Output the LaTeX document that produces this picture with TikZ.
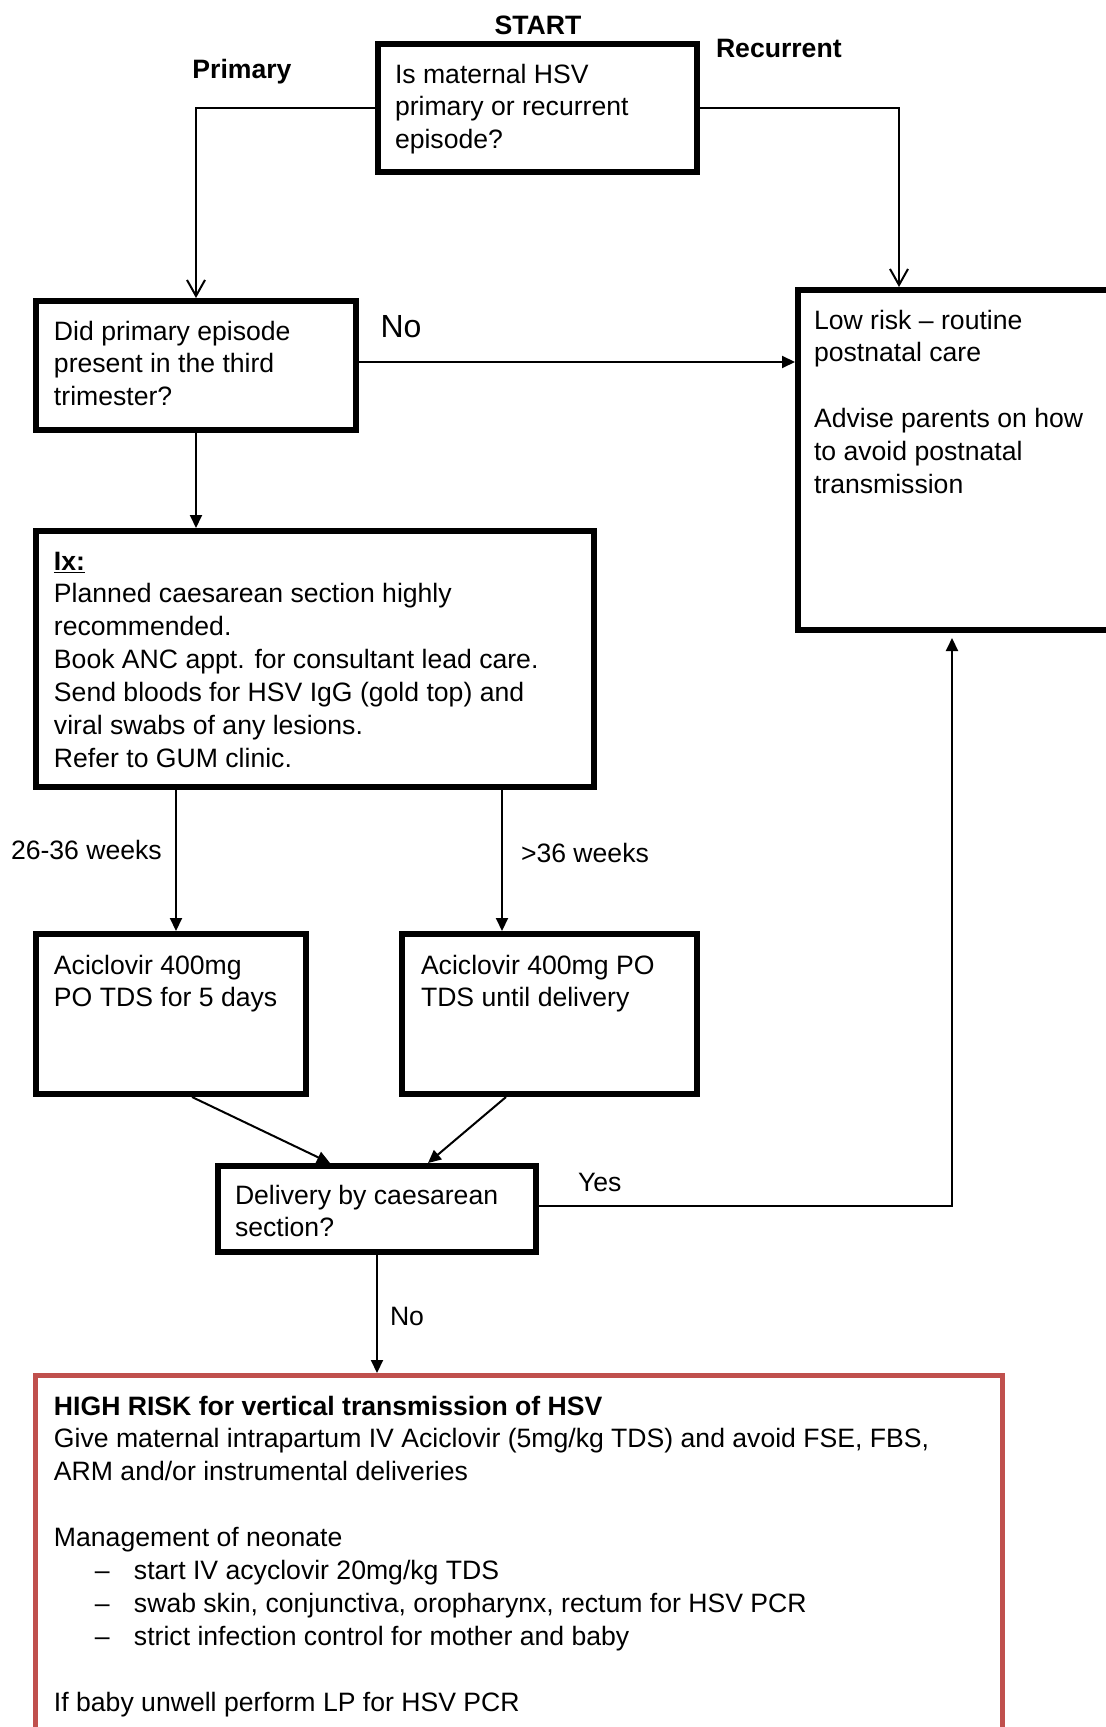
\documentclass[tikz,border=0pt]{standalone}
\usepackage{fontspec}
\setmainfont{Liberation Sans}
\usetikzlibrary{arrows.meta,calc}
\definecolor{hired}{HTML}{C0504D}
\newcommand\bodyfont{\fontsize{13.3}{16.45}\selectfont}
\newcommand\bigfont{\fontsize{16}{19}\selectfont}
\begin{document}
\begin{tikzpicture}[x=0.5pt,y=-0.5pt,
  box/.style={draw=black, line width=2.8pt, outer sep=1.4pt, inner sep=0pt, anchor=north west, rectangle},
  redbox/.style={draw=hired, line width=2.3pt, outer sep=1.15pt, inner sep=0pt, anchor=north west, rectangle},
  txt/.style={anchor=north west, inner sep=0pt, outer sep=0pt, align=left, font=\bodyfont},
  lbl/.style={inner sep=0pt, outer sep=0pt, font=\bodyfont},
  conn/.style={draw=black, line width=1pt},
  oarrow/.style={conn, -{Straight Barb[length=8pt,width=9pt]}},
  farrow/.style={conn, -{Triangle[length=6.5pt,width=6pt]}}
]
\useasboundingbox (0,0) rectangle (1106,1727);
\clip (0,0) rectangle (1106,1727);

% boxes
\node[box, minimum width=159.7pt, minimum height=64.2pt] (q1) at (375,41) {};
\node[box, minimum width=160.2pt, minimum height=64.7pt] (q2) at (33,298) {};
\node[box, minimum width=164.7pt, minimum height=170.2pt] (low) at (795,287) {};
\node[box, minimum width=279.2pt, minimum height=128.2pt] (ix) at (33,528) {};
\node[box, minimum width=135.2pt, minimum height=80.2pt] (a1) at (33,931) {};
\node[box, minimum width=147.7pt, minimum height=80.2pt] (a2) at (399,931) {};
\node[box, minimum width=159.2pt, minimum height=43.2pt] (del) at (215,1163) {};
\node[redbox, minimum width=483.7pt, minimum height=211.2pt] (high) at (33,1373) {};

% texts
\node[txt] (q1t) at (395,60) {\strut Is maternal HSV\\primary or recurrent\\episode?};
\node[txt] (q2t) at (54,317) {\strut Did primary episode\\present in the third\\trimester?};
\node[txt] (lowt) at (814,306) {\strut Low risk – routine\\postnatal care\\[16.45pt]Advise parents on how\\to avoid postnatal\\transmission};
\node[txt] (ixt) at (54,547) {\strut\underline{\textbf{Ix:}}\\Planned caesarean section highly\\recommended.\\Book ANC appt. for consultant lead care.\\Send bloods for HSV IgG (gold top) and\\viral swabs of any lesions.\\Refer to GUM clinic.};
\node[txt] (a1t) at (54,951) {\strut Aciclovir 400mg\\PO TDS for 5 days};
\node[txt] (a2t) at (421,951) {\strut Aciclovir 400mg PO\\TDS until delivery};
\node[txt] (delt) at (235,1181) {\strut Delivery by caesarean\\section?};
\node[txt] (hight) at (54,1392) {\strut\textbf{HIGH RISK for vertical transmission of HSV}\\Give maternal intrapartum IV Aciclovir (5mg/kg TDS) and avoid FSE, FBS,\\ARM and/or instrumental deliveries\\[16.45pt]Management of neonate\\\hspace*{20.5pt}\makebox[19.5pt][l]{–}start IV acyclovir 20mg/kg TDS\\\hspace*{20.5pt}\makebox[19.5pt][l]{–}swab skin, conjunctiva, oropharynx, rectum for HSV PCR\\\hspace*{20.5pt}\makebox[19.5pt][l]{–}strict infection control for mother and baby\\[16.45pt]If baby unwell perform LP for HSV PCR};

% labels
\node[lbl, anchor=base] (start) at (538,35) {\textbf{START}};
\node[lbl, anchor=base] (lprim) at (242,79) {\textbf{Primary}};
\node[lbl, anchor=base west] (lrec) at (716,58) {\textbf{Recurrent}};
\node[lbl, anchor=base, font=\bigfont] (lno1) at (401,338) {No};
\node[lbl, anchor=base west] (lw1) at (11,859) {26-36 weeks};
\node[lbl, anchor=base west] (lw2) at (521,862) {>36 weeks};
\node[lbl, anchor=base west] (lyes) at (578,1191) {Yes};
\node[lbl, anchor=base west] (lno2) at (390,1325) {No};

% connectors
\draw[oarrow] (q1.west) -| (q2.north);
\draw[oarrow] (q1.east) -| ([xshift=-31.75pt]low.north);
\draw[farrow] ([yshift=1.75pt]q2.east) -- ([yshift=1.75pt]q2.east -| low.west);
\draw[farrow] (q2.south) -- (q2.south |- ix.north);
\draw[farrow] ([xshift=2.5pt]a1.north |- ix.south) -- ([xshift=2.5pt]a1.north);
\draw[farrow] ([xshift=-23.75pt]a2.north |- ix.south) -- ([xshift=-23.75pt]a2.north);
\draw[farrow] ([xshift=10.5pt]a1.south) -- ([xshift=-23.5pt]del.north);
\draw[farrow] ([xshift=-21.75pt]a2.south) -- ([xshift=25.5pt]del.north);
\draw[farrow] ([yshift=1.5pt]del.east) -| ([xshift=-5.25pt,yshift=-2.5pt]low.south);
\draw[farrow] (del.south) -- (del.south |- high.north);
\end{tikzpicture}
\end{document}
